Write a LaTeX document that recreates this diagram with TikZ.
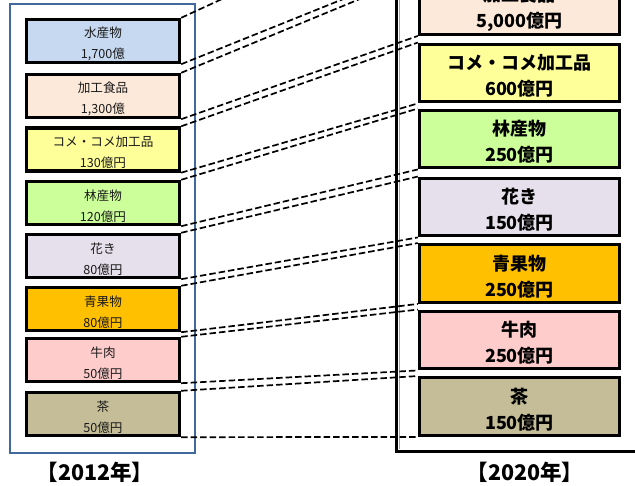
\documentclass[tikz,border=0pt]{standalone}
\usepackage{fontspec}
\setmainfont{Noto Sans CJK JP}
\definecolor{cSui}{HTML}{C6D9F1}
\definecolor{cKako}{HTML}{FDE9D9}
\definecolor{cKome}{HTML}{FFFF99}
\definecolor{cRin}{HTML}{CCFF99}
\definecolor{cHana}{HTML}{E6E0EC}
\definecolor{cSei}{HTML}{FFC000}
\definecolor{cGyu}{HTML}{FFCCCC}
\definecolor{cCha}{HTML}{C4BD97}
\definecolor{frameblue}{HTML}{41699C}
\begin{document}
\begin{tikzpicture}[x=1pt,y=-1pt,
  lbox/.style={draw=black,line width=3.4pt,minimum width=153pt,minimum height=43pt,inner sep=0pt},
  ltext/.style={inner sep=0pt,align=center,text=black!90,font=\fontsize{12.6}{21}\selectfont,yshift=-3pt},
  rbox/.style={draw=black,line width=3.4pt,minimum width=200pt,minimum height=57.5pt,inner sep=0pt},
  rtext/.style={inner sep=0pt,align=center,font=\bfseries\fontsize{18}{26}\selectfont,yshift=-3pt},
  conn/.style={dash pattern=on 6.5pt off 3pt,line width=1.7pt},
  yearlbl/.style={inner sep=0pt,font=\bfseries\fontsize{21.5}{23}\selectfont},
  leftframe/.style={draw=frameblue,line width=2.8pt,minimum width=185pt,minimum height=449pt,inner sep=0pt}]
\useasboundingbox (0,0) rectangle (635,486);
\clip (0,0) rectangle (635,486);
% frames
\node[leftframe] (fL) at (102.5,228.5) {};
\draw[black!35,line width=1pt] (399.5,-200) -- (399.5,449);
\draw[black,line width=3pt] (700,451) -- (396,451) -- (396,-200);
% left boxes (2012)
\node[lbox,fill=cSui]  (L1) at (103,41)    {};
\node[lbox,fill=cKako] (L2) at (103,96)    {};
\node[lbox,fill=cKome] (L3) at (103,149.5) {};
\node[lbox,fill=cRin]  (L4) at (103,203)   {};
\node[lbox,fill=cHana] (L5) at (103,256)   {};
\node[lbox,fill=cSei]  (L6) at (103,309)   {};
\node[lbox,fill=cGyu]  (L7) at (103,360)   {};
\node[lbox,fill=cCha]  (L8) at (103,414)   {};
\node[ltext] (L1t) at (L1.center) {水産物\\1,700億};
\node[ltext] (L2t) at (L2.center) {加工食品\\1,300億};
\node[ltext] (L3t) at (L3.center) {コメ・コメ加工品\\130億円};
\node[ltext] (L4t) at (L4.center) {林産物\\120億円};
\node[ltext] (L5t) at (L5.center) {花き\\80億円};
\node[ltext] (L6t) at (L6.center) {青果物\\80億円};
\node[ltext] (L7t) at (L7.center) {牛肉\\50億円};
\node[ltext] (L8t) at (L8.center) {茶\\50億円};
% right boxes (2020)
\coordinate (r0nw) at (418,-91);
\coordinate (r0sw) at (418,-31);
\node[rbox,fill=cKako] (R1) at (519.5,5.5)   {};
\node[rbox,fill=cKome] (R2) at (519.5,73)    {};
\node[rbox,fill=cRin]  (R3) at (519.5,139)   {};
\node[rbox,fill=cHana] (R4) at (519.5,207)   {};
\node[rbox,fill=cSei]  (R5) at (519.5,273.5) {};
\node[rbox,fill=cGyu]  (R6) at (519.5,340)   {};
\node[rbox,fill=cCha]  (R7) at (519.5,406.5) {};
\node[rtext] (R1t) at (R1.center) {加工食品\\5,000億円};
\node[rtext] (R2t) at (R2.center) {コメ・コメ加工品\\600億円};
\node[rtext] (R3t) at (R3.center) {林産物\\250億円};
\node[rtext] (R4t) at (R4.center) {花き\\150億円};
\node[rtext] (R5t) at (R5.center) {青果物\\250億円};
\node[rtext] (R6t) at (R6.center) {牛肉\\250億円};
\node[rtext] (R7t) at (R7.center) {茶\\150億円};
% connectors
\draw[conn] (L1.north east) -- (r0nw);
\draw[conn] (L1.south east) -- (r0sw);
\draw[conn] (L2.north east) -- (R1.north west);
\draw[conn] (L2.south east) -- (R1.south west);
\draw[conn] (L3.north east) -- (R2.north west);
\draw[conn] (L3.south east) -- (R2.south west);
\draw[conn] (L4.north east) -- (R3.north west);
\draw[conn] (L4.south east) -- (R3.south west);
\draw[conn] (L5.north east) -- (R4.north west);
\draw[conn] (L5.south east) -- (R4.south west);
\draw[conn] (L6.north east) -- (R5.north west);
\draw[conn] (L6.south east) -- (R5.south west);
\draw[conn] (L7.north east) -- (R6.north west);
\draw[conn] (L7.south east) -- (R6.south west);
\draw[conn] (L8.north east) -- (R7.north west);
\draw[conn] (L8.south east) -- (R7.south west);
% year labels
\node[yearlbl] (y1) at (95,472)  {【2012年】};
\node[yearlbl] (y2) at (525,472) {【2020年】};
\end{tikzpicture}
\end{document}
